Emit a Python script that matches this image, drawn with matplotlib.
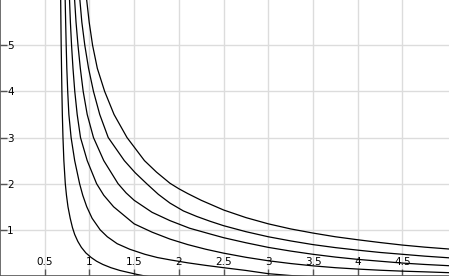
import matplotlib
matplotlib.use("Agg")
import matplotlib.pyplot as plt

# =============================
# 1. Curve data (x, y pairs, from the top down to the right)
# =============================
c1_x = [0.678, 0.681, 0.684, 0.688, 0.692, 0.697, 0.704, 0.714, 0.730, 0.743, 0.760, 0.785, 0.810, 0.835,
        0.870, 0.910, 0.960, 1.020, 1.080, 1.150, 1.240, 1.340, 1.440, 1.530, 1.620, 1.800, 2.000]
c1_y = [6.05, 5.5, 5.0, 4.5, 4.0, 3.5, 3.0, 2.5, 2.0, 1.75, 1.5, 1.25, 1.05, 0.90,
        0.75, 0.62, 0.50, 0.40, 0.32, 0.25, 0.18, 0.12, 0.075, 0.035, 0.0, -0.05, -0.08]

c2_x = [0.728, 0.734, 0.740, 0.747, 0.757, 0.770, 0.795, 0.835, 0.890, 0.925, 0.970, 1.030, 1.120, 1.200,
        1.310, 1.450, 1.620, 1.760, 1.900, 2.100, 2.300, 2.500, 2.750, 3.000, 3.250, 3.500, 4.000]
c2_y = [6.05, 5.5, 5.0, 4.5, 4.0, 3.5, 3.0, 2.5, 2.0, 1.75, 1.5, 1.25, 1.0, 0.85,
        0.70, 0.58, 0.47, 0.40, 0.35, 0.285, 0.23, 0.18, 0.12, 0.05, 0.01, -0.02, -0.07]

c3_x = [0.776, 0.787, 0.800, 0.816, 0.836, 0.863, 0.900, 0.975, 1.080, 1.160, 1.270, 1.500, 1.700, 1.900,
        2.100, 2.300, 2.500, 2.750, 3.000, 3.250, 3.500, 3.750, 4.000, 4.250, 4.500, 4.750, 5.050]
c3_y = [6.05, 5.5, 5.0, 4.5, 4.0, 3.5, 3.0, 2.5, 2.0, 1.75, 1.5, 1.13, 0.95, 0.80,
        0.68, 0.58, 0.495, 0.405, 0.33, 0.27, 0.22, 0.18, 0.15, 0.125, 0.105, 0.09, 0.07]

c4_x = [0.832, 0.850, 0.872, 0.898, 0.930, 0.975, 1.045, 1.160, 1.320, 1.410, 1.500, 1.700, 1.900, 2.120,
        2.350, 2.500, 2.750, 3.000, 3.250, 3.500, 3.750, 4.000, 4.250, 4.500, 4.750, 5.050]
c4_y = [6.05, 5.5, 5.0, 4.5, 4.0, 3.5, 3.0, 2.5, 2.0, 1.80, 1.64, 1.38, 1.20, 1.035,
        0.91, 0.83, 0.72, 0.62, 0.54, 0.47, 0.41, 0.36, 0.32, 0.28, 0.25, 0.22]

c5_x = [0.890, 0.915, 0.948, 0.990, 1.045, 1.115, 1.210, 1.390, 1.510, 1.640, 1.770, 1.900, 2.050, 2.200,
        2.350, 2.500, 2.750, 3.000, 3.250, 3.500, 3.750, 4.000, 4.250, 4.500, 4.750, 5.050]
c5_y = [6.05, 5.5, 5.0, 4.5, 4.0, 3.5, 3.0, 2.5, 2.24, 2.0, 1.77, 1.58, 1.41, 1.29,
        1.185, 1.09, 0.96, 0.85, 0.76, 0.68, 0.615, 0.56, 0.51, 0.47, 0.43, 0.39]

c6_x = [0.965, 0.997, 1.035, 1.088, 1.170, 1.275, 1.420, 1.615, 1.750, 1.900, 2.000, 2.100, 2.250, 2.500,
        2.750, 3.000, 3.250, 3.500, 3.750, 4.000, 4.250, 4.500, 4.750, 5.050]
c6_y = [6.05, 5.5, 5.0, 4.5, 4.0, 3.5, 3.0, 2.5, 2.25, 2.01, 1.89, 1.785, 1.64, 1.43,
        1.265, 1.13, 1.02, 0.93, 0.85, 0.785, 0.725, 0.67, 0.625, 0.58]

x_ticks = [0.5, 1, 1.5, 2, 2.5, 3, 3.5, 4, 4.5]
x_tick_labels = ["0.5", "1", "1.5", "2", "2.5", "3", "3.5", "4", "4.5"]
y_ticks = [1, 2, 3, 4, 5]
y_tick_labels = ["1", "2", "3", "4", "5"]

# =============================
# 2. Figure
# =============================
fig = plt.figure(figsize=(4.49, 2.76), dpi=100)
ax = fig.add_axes([0, 0, 1, 1])

for xs, ys in [(c1_x, c1_y), (c2_x, c2_y), (c3_x, c3_y),
               (c4_x, c4_y), (c5_x, c5_y), (c6_x, c6_y)]:
    ax.plot(xs, ys, color="black", linewidth=0.9, solid_joinstyle="round")

ax.set_xlim(0, 5.02)
ax.set_ylim(0, 5.98)

# grid
ax.set_xticks(x_ticks)
ax.set_xticklabels(x_tick_labels)
ax.set_yticks(y_ticks)
ax.set_yticklabels(y_tick_labels)
ax.grid(True, color="#dcdcdc", linewidth=1.0)
ax.set_axisbelow(True)

# axes drawn at the left / bottom edge, labels inside the plot
for side in ["top", "right"]:
    ax.spines[side].set_visible(False)
for side in ["left", "bottom"]:
    ax.spines[side].set_color("#555555")
    ax.spines[side].set_linewidth(1.2)

ax.tick_params(axis="x", direction="in", length=5, width=1, color="#555555",
               labelsize=7.5, pad=-14)
ax.tick_params(axis="y", direction="in", length=5, width=1, color="#555555",
               labelsize=7.5, pad=-5)
for lab in ax.get_yticklabels():
    lab.set_horizontalalignment("left")

fig.savefig("out.png", dpi=100)
